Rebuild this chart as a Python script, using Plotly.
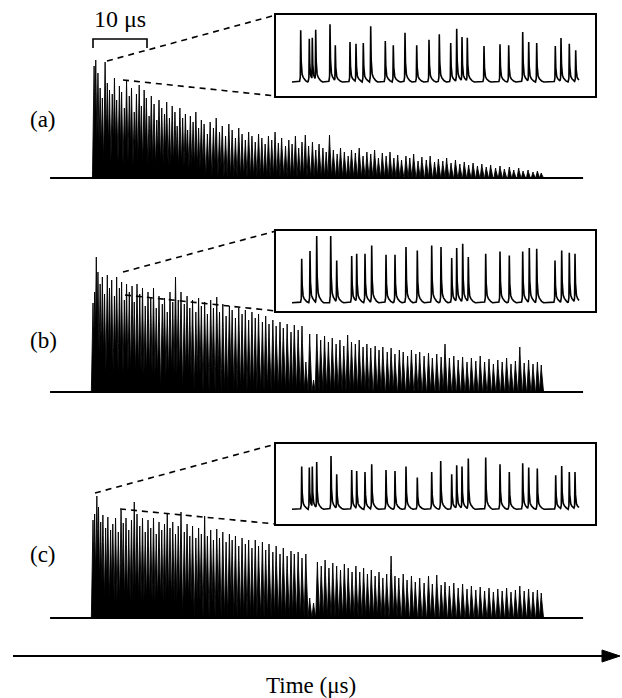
import numpy as np
import plotly.graph_objects as go

W, H = 622, 698

# ---------------- data ----------------
# Main pulse trains: spike time (us) and amplitude (arb. units)
a_t = [0.2, 0.5, 0.9, 1.3, 1.7, 2.2, 2.6, 3.0, 3.5, 3.9, 4.3, 4.8, 5.2, 5.7, 6.1, 6.6, 7.0, 7.5, 7.9, 8.4,
       8.8, 9.3, 9.7, 10.2, 10.6, 11.1, 11.6, 12.0, 12.5, 13.0, 13.4, 13.9, 14.4, 14.9, 15.3, 15.8, 16.3, 16.8,
       17.2, 17.7, 18.2, 18.7, 19.2, 19.7, 20.2, 20.8, 21.3, 21.9, 22.4, 23.0, 23.5, 24.1, 24.7, 25.3, 25.9,
       26.5, 27.1, 27.7, 28.3, 28.9, 29.5, 30.1, 30.7, 31.3, 31.9, 32.5, 33.1, 33.7, 34.3, 35.0, 35.6, 36.2,
       36.8, 37.4, 38.0, 38.6, 39.2, 39.9, 40.5, 41.1, 41.8, 42.4, 43.0, 43.7, 44.4, 45.0, 45.7, 46.4, 47.0,
       47.7, 48.4, 49.1, 49.8, 50.5, 51.2, 51.9, 52.6, 53.3, 54.0, 54.7, 55.4, 56.1, 56.9, 57.6, 58.3, 59.1,
       59.8, 60.6, 61.3, 62.1, 62.8, 63.6, 64.3, 65.1, 65.9, 66.7, 67.5, 68.3, 69.1, 69.9, 70.7, 71.5, 72.3,
       73.2, 74.0, 74.8, 75.7, 76.5, 77.4, 78.2, 79.1, 80.0, 80.8, 81.5]
a_h = [112, 118, 105, 90, 80, 116, 95, 88, 84, 100, 78, 92, 86, 70, 98, 82, 90, 66, 84, 93,
       72, 88, 80, 62, 82, 74, 58, 78, 70, 64, 76, 60, 72, 66, 52, 70, 60, 64,
       48, 62, 56, 66, 50, 58, 54, 44, 56, 50, 60, 46, 52, 42, 54, 48, 40,
       50, 44, 38, 46, 42, 36, 44, 40, 34, 42, 38, 46, 35, 40, 32, 38, 34,
       42, 30, 36, 43, 32, 36, 28, 34, 30, 26, 43, 28, 24, 30, 26, 22, 28,
       25, 30, 22, 26, 24, 28, 20, 25, 22, 26, 20, 23, 18, 22, 20, 24, 17,
       21, 18, 22, 16, 19, 17, 20, 15, 18, 14, 16, 13, 15, 12, 14, 11, 13,
       10, 12, 9, 11, 8, 10, 7, 8, 6, 7, 5]

b_t = [0.0, 0.3, 0.6, 0.9, 1.3, 1.7, 2.1, 2.6, 3.0, 3.4, 3.9, 4.3, 4.8, 5.2, 5.7, 6.1, 6.6, 7.1, 7.5, 8.0,
       8.5, 9.0, 9.5, 10.0, 10.5, 11.0, 11.5, 12.0, 12.6, 13.0, 13.5, 14.0, 14.5, 15.0, 15.5, 16.0, 16.6,
       17.1, 17.6, 18.1, 18.7, 19.2, 19.7, 20.3, 20.8, 21.4, 21.9, 22.5, 23.0, 23.6, 24.2, 24.8, 25.3, 25.9,
       26.5, 27.1, 27.7, 28.3, 28.9, 29.5, 30.1, 30.8, 31.4, 32.0, 32.7, 33.3, 34.0, 34.6, 35.3, 36.0, 36.6,
       37.3, 38.0, 38.7, 39.4, 40.1, 40.7, 41.4, 42.1, 42.8, 43.5, 44.2, 44.9, 45.6, 46.3, 47.0, 47.7, 48.4,
       49.1, 49.8, 50.5, 51.3, 52.0, 52.7, 53.5, 54.2, 54.9, 55.7, 56.4, 57.2, 57.9, 58.7, 59.4, 60.2, 61.0,
       61.7, 62.5, 63.3, 64.0, 64.8, 65.6, 66.4, 67.2, 68.0, 68.8, 69.6, 70.4, 71.2, 72.0, 72.8, 73.6, 74.4,
       75.2, 76.0, 76.8, 77.6, 78.4, 79.2, 80.0, 80.8, 81.5]
b_h = [89, 100, 135, 120, 108, 115, 98, 117, 104, 112, 96, 115, 104, 110, 92, 108, 100, 106, 90, 108,
       98, 104, 86, 100, 95, 104, 84, 96, 88, 94, 80, 100, 90, 115, 92, 100, 88,
       96, 84, 92, 80, 94, 86, 90, 78, 92, 84, 95, 80, 88, 76, 86, 82, 74,
       84, 78, 82, 72, 80, 74, 78, 70, 76, 68, 72, 66, 70, 64, 68, 60, 67,
       62, 66, 30, 58, 12, 58, 52, 56, 50, 54, 48, 52, 46, 57, 50, 48, 52,
       45, 48, 44, 46, 42, 45, 40, 44, 38, 42, 40, 36, 42, 38, 40, 36, 39,
       34, 38, 35, 48, 34, 36, 32, 35, 30, 34, 31, 36, 30, 33, 28, 32, 30,
       34, 28, 31, 45, 29, 32, 28, 30, 27]

c_t = [0.0, 0.3, 0.7, 1.0, 1.4, 1.8, 2.3, 2.7, 3.2, 3.6, 4.1, 4.6, 5.1, 5.5, 6.0, 6.5, 7.0, 7.5, 8.0, 8.5,
       9.0, 9.5, 10.0, 10.5, 11.0, 11.5, 12.0, 12.5, 13.0, 13.5, 14.0, 14.5, 15.0, 15.5, 16.0, 16.6, 17.1,
       17.6, 18.1, 18.7, 19.2, 19.7, 20.3, 20.8, 21.4, 21.9, 22.5, 23.0, 23.6, 24.2, 24.8, 25.3, 25.9, 26.5,
       27.1, 27.7, 28.3, 28.9, 29.5, 30.1, 30.8, 31.4, 32.0, 32.7, 33.3, 34.0, 34.6, 35.3, 36.0, 36.6, 37.3,
       38.0, 38.7, 39.4, 40.1, 40.8, 41.5, 42.2, 42.9, 43.6, 44.3, 45.0, 45.7, 46.4, 47.1, 47.8, 48.5, 49.2,
       49.9, 50.6, 51.3, 52.0, 52.7, 53.4, 54.2, 54.9, 55.6, 56.4, 57.1, 57.9, 58.6, 59.4, 60.2, 61.0, 61.7,
       62.5, 63.3, 64.0, 64.8, 65.6, 66.4, 67.2, 68.0, 68.8, 69.6, 70.4, 71.2, 72.0, 72.8, 73.6, 74.4, 75.2,
       76.0, 76.8, 77.6, 78.4, 79.2, 80.0, 80.8, 81.5]
c_h = [98, 104, 122, 111, 96, 103, 90, 101, 88, 94, 100, 86, 108, 95, 100, 88, 98, 116, 104, 92,
       100, 86, 98, 90, 100, 84, 96, 88, 94, 105, 90, 96, 84, 92, 106, 86, 94,
       82, 92, 80, 90, 84, 102, 82, 88, 78, 89, 80, 86, 76, 84, 78, 82, 72,
       80, 74, 78, 70, 78, 72, 76, 68, 74, 66, 72, 64, 70, 62, 67, 64, 66,
       60, 64, 20, 15, 56, 52, 58, 50, 55, 52, 48, 54, 50, 46, 52, 46, 50,
       44, 48, 42, 46, 40, 44, 62, 42, 40, 44, 38, 42, 36, 40, 35, 42, 34,
       43, 33, 36, 32, 35, 30, 34, 29, 32, 28, 31, 27, 30, 26, 29, 27, 30,
       26, 28, 32, 27, 29, 26, 28, 25]

# baseline span of the main traces (us)
base_span = [-7.8, 89.1]

# Zoomed insets: spike position (arb. time) and amplitude
ia_t = [8.7, 17.3, 20.3, 23.7, 38.0, 43.3, 58.0, 64.0, 71.3, 78.7, 93.3, 101.3, 113.0, 124.7, 137.0,
        147.3, 158.7, 164.7, 170.0, 175.3, 192.0, 208.0, 216.7, 230.7, 236.7, 244.7, 263.3, 269.0, 277.3, 283.7]
ia_h = [51.7, 43.3, 44.3, 52.3, 57.7, 36.7, 40.0, 38.3, 39.0, 55.7, 41.0, 36.7, 49.3, 36.7, 42.3,
        47.7, 39.0, 53.3, 45.0, 44.3, 36.0, 37.7, 36.7, 50.0, 40.0, 39.0, 36.0, 44.0, 38.3, 31.7]

ib_t = [9.7, 18.0, 24.7, 38.7, 44.7, 59.7, 64.7, 73.0, 79.7, 94.0, 103.0, 114.0, 125.3, 139.7, 149.0,
        159.7, 164.7, 170.7, 176.3, 193.7, 208.0, 217.3, 230.7, 237.3, 244.7, 263.0, 269.7, 277.3, 283.0]
ib_h = [44.0, 51.7, 66.7, 66.7, 42.3, 46.7, 49.0, 49.0, 57.3, 48.0, 48.0, 55.7, 52.3, 57.3, 55.7,
        44.7, 54.7, 59.0, 45.7, 49.0, 51.3, 47.3, 51.3, 54.7, 54.0, 42.3, 52.3, 50.0, 49.0]

ic_t = [9.7, 17.3, 20.3, 24.7, 39.0, 44.7, 59.7, 64.7, 73.0, 79.7, 94.0, 103.0, 114.0, 125.3, 139.7,
        148.7, 159.7, 164.7, 170.0, 176.3, 193.7, 208.0, 217.3, 230.7, 236.7, 245.3, 263.7, 269.7, 277.3, 283.0]
ic_h = [42.7, 41.7, 42.7, 47.3, 53.3, 35.0, 39.3, 38.3, 37.3, 45.0, 39.3, 38.3, 42.7, 31.7, 37.3,
        48.3, 35.0, 44.0, 42.7, 50.7, 51.7, 45.0, 37.3, 46.0, 41.7, 40.7, 34.0, 43.3, 37.3, 37.3]
inset_span = [0.0, 287.0]

panel_labels = ["(a)", "(b)", "(c)"]
scale_label = "10 \u03bcs"
xlabel = "Time (\u03bcs)"

# ---------------- layout helpers (pixel geometry) ----------------
FONT = "Liberation Serif"
T0_PX, PX_PER_US = 93.0, 5.5


def pxx(x):
    return x / W


def pxy(y):
    return 1 - y / H


fig = go.Figure()

main_base_px = [178, 392, 618]
inset_box = [(15, 96, 82), (231, 311, 302.7), (444, 524, 509.3)]
INSET_X0, INSET_X1, INSET_ORIGIN = 276, 595, 292
label_y = [120, 340, 554]

mains = [(a_t, a_h), (b_t, b_h), (c_t, c_h)]
insets = [(ia_t, ia_h), (ib_t, ib_h), (ic_t, ic_h)]

layout_axes = {}
x_range_main = [(0 - T0_PX) / PX_PER_US, (W - T0_PX) / PX_PER_US]

# grid for drawing the spike outlines
tgrid = np.arange(base_span[0], base_span[1] + 1e-9, 0.02)
igrid = np.arange(inset_span[0], inset_span[1] + 1e-9, 0.1)
HALF_W = 0.3  # us, half width of a drawn spike
k_off = [-1.2, -0.4, 0.0, 0.6, 1.6, 3.0, 6.0]
k_fac = [0.0, 0.1, 1.0, 0.28, 0.13, 0.07, 0.0]

for i in range(3):
    k = i + 1
    xa = 'x' if k == 1 else f'x{k}'
    ya = 'y' if k == 1 else f'y{k}'
    base = main_base_px[i]
    top_px, bot_px = base - 142, base + 5
    layout_axes['xaxis' if k == 1 else f'xaxis{k}'] = dict(
        domain=[0, 1], range=x_range_main, visible=False, anchor=ya)
    layout_axes['yaxis' if k == 1 else f'yaxis{k}'] = dict(
        domain=[pxy(bot_px), pxy(top_px)], range=[-(bot_px - base), base - top_px],
        visible=False, anchor=xa)

    t_arr = np.array(mains[i][0])
    h_arr = np.array(mains[i][1])
    tri = np.clip(1 - np.abs(tgrid[:, None] - t_arr[None, :]) / HALF_W, 0, None) * h_arr[None, :]
    yv = tri.max(axis=1)
    fig.add_trace(go.Scatter(x=tgrid, y=yv, mode='lines', fill='tozeroy',
                             fillcolor='black', line=dict(color='black', width=0.9),
                             xaxis=xa, yaxis=ya, hoverinfo='skip', showlegend=False))
    fig.add_trace(go.Scatter(x=base_span, y=[0, 0], mode='lines',
                             line=dict(color='black', width=2.2),
                             xaxis=xa, yaxis=ya, hoverinfo='skip', showlegend=False))

    # inset
    kk = k + 3
    ixa, iya = f'x{kk}', f'y{kk}'
    btop, bbot, bbase = inset_box[i]
    layout_axes[f'xaxis{kk}'] = dict(
        domain=[pxx(INSET_X0), pxx(INSET_X1)],
        range=[INSET_X0 - INSET_ORIGIN, INSET_X1 - INSET_ORIGIN],
        showline=True, mirror=True, linecolor='black', linewidth=1.6,
        showgrid=False, zeroline=False, showticklabels=False, ticks='', anchor=iya)
    layout_axes[f'yaxis{kk}'] = dict(
        domain=[pxy(bbot), pxy(btop)], range=[-(bbot - bbase), bbase - btop],
        showline=True, mirror=True, linecolor='black', linewidth=1.6,
        showgrid=False, zeroline=False, showticklabels=False, ticks='', anchor=ixa)
    it_arr = np.array(insets[i][0])
    ih_arr = np.array(insets[i][1])
    prof = np.interp(igrid[:, None] - it_arr[None, :], k_off, k_fac, left=0, right=0) * ih_arr[None, :]
    iy = prof.max(axis=1)
    fig.add_trace(go.Scatter(x=igrid, y=iy, mode='lines',
                             line=dict(color='black', width=1.6),
                             xaxis=ixa, yaxis=iya, hoverinfo='skip', showlegend=False))

# ---------------- decorations ----------------
shapes = []
dash_lines = [
    ((107, 61), (INSET_X0, 15)), ((123, 80), (INSET_X0, 96)),
    ((123, 272), (INSET_X0, 231)), ((125, 295), (INSET_X0, 311)),
    ((95, 493), (INSET_X0, 444)), ((120, 509), (INSET_X0, 524)),
]
for (x0, y0), (x1, y1) in dash_lines:
    shapes.append(dict(type='line', xref='paper', yref='paper',
                       x0=pxx(x0), y0=pxy(y0), x1=pxx(x1), y1=pxy(y1),
                       line=dict(color='black', width=1.6, dash='6px,5px')))

# scale bar bracket
bx0, bx1, byt, byb = 93, 147, 39, 48
shapes.append(dict(type='path', xref='paper', yref='paper',
                   path=f"M {pxx(bx0)},{pxy(byb)} L {pxx(bx0)},{pxy(byt)} L {pxx(bx1)},{pxy(byt)} L {pxx(bx1)},{pxy(byb)}",
                   line=dict(color='black', width=1.6)))

# time arrow
ay = 656
shapes.append(dict(type='line', xref='paper', yref='paper',
                   x0=pxx(13), y0=pxy(ay), x1=pxx(606), y1=pxy(ay),
                   line=dict(color='black', width=1.8)))
shapes.append(dict(type='path', xref='paper', yref='paper',
                   path=f"M {pxx(620)},{pxy(ay)} L {pxx(602)},{pxy(ay - 6)} L {pxx(602)},{pxy(ay + 6)} Z",
                   fillcolor='black', line=dict(color='black', width=1)))

annotations = []
for i in range(3):
    annotations.append(dict(text=panel_labels[i], xref='paper', yref='paper',
                            x=pxx(43), y=pxy(label_y[i]), showarrow=False,
                            xanchor='center', yanchor='middle',
                            font=dict(family=FONT, size=23, color='black')))
annotations.append(dict(text=scale_label, xref='paper', yref='paper',
                        x=pxx(120), y=pxy(19), showarrow=False,
                        xanchor='center', yanchor='middle',
                        font=dict(family=FONT, size=24, color='black')))
annotations.append(dict(text=xlabel, xref='paper', yref='paper',
                        x=pxx(311), y=pxy(685), showarrow=False,
                        xanchor='center', yanchor='middle',
                        font=dict(family=FONT, size=23, color='black')))

fig.update_layout(
    width=W, height=H, margin=dict(l=0, r=0, t=0, b=0, pad=0),
    paper_bgcolor='white', plot_bgcolor='rgba(0,0,0,0)',
    shapes=shapes, annotations=annotations, showlegend=False,
    **layout_axes,
)

fig.write_html("out.html")
